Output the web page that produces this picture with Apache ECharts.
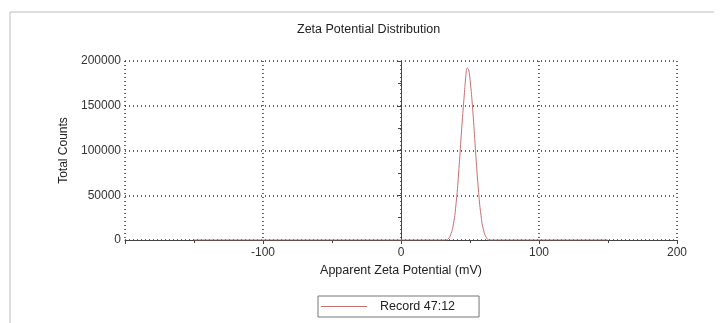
<!DOCTYPE html>
<html>
<head>
<meta charset="utf-8">
<script src="https://cdn.jsdelivr.net/npm/echarts@6/dist/echarts.min.js"></script>
<style>
  html, body { margin: 0; padding: 0; background: #fff; }
  #main { width: 720px; height: 323px; }
</style>
</head>
<body>
<div id="main"></div>
<script>
// apparent zeta potential (mV) and total counts
var potential = [-150, 30, 32, 34, 36, 38, 40, 42, 44, 46, 47, 48, 49, 50, 52, 54, 56, 58, 60, 62, 64, 150];
var counts    = [0, 0, 0, 1000, 6000, 18000, 42000, 80000, 125000, 165000, 183000, 192000, 190000, 180000, 145000, 100000, 58000, 27000, 10000, 2500, 0, 0];
var seriesName = 'Record 47:12';

var points = [];
for (var i = 0; i < potential.length; i++) {
  points.push([potential[i], counts[i]]);
}

var chart = echarts.init(document.getElementById('main'));
var font = 'Liberation Sans, Arial, sans-serif';
var option = {
  animation: false,
  backgroundColor: '#fff',
  textStyle: { fontFamily: font },
  title: {
    text: 'Zeta Potential Distribution',
    left: 292,
    top: 18,
    textStyle: { fontSize: 12.5, fontWeight: 'normal', color: '#222', fontFamily: font }
  },
  graphic: [{
    type: 'polyline',
    shape: { points: [[10, 323], [10, 12], [714, 12]] },
    style: { stroke: '#bbb', lineWidth: 1, fill: null }
  }],
  grid: { left: 125, right: 43, top: 61, bottom: 83 },
  legend: {
    data: [seriesName],
    left: 318,
    top: 296,
    padding: [4, 24, 4, 3],
    borderColor: '#777',
    borderWidth: 1,
    icon: 'rect',
    itemWidth: 46,
    itemHeight: 1,
    itemGap: 0,
    textStyle: { fontSize: 12.5, color: '#222', fontFamily: font, padding: [0, 0, 0, 8] }
  },
  xAxis: {
    type: 'value',
    min: -200,
    max: 200,
    interval: 100,
    name: 'Apparent Zeta Potential (mV)',
    nameLocation: 'middle',
    nameGap: 23,
    nameTextStyle: { fontSize: 12.5, color: '#222' },
    axisLine: { onZero: false, lineStyle: { color: '#444', width: 1 } },
    axisTick: { show: true, length: 4, lineStyle: { color: '#444' } },
    minorTick: { show: true, splitNumber: 2, length: 3, lineStyle: { color: '#444' } },
    axisLabel: {
      fontSize: 12, color: '#333', margin: 7,
      formatter: function (v) { return v === -200 ? '' : String(v); }
    },
    splitLine: { show: true, lineStyle: { color: '#333', type: [1, 3], width: 1.5 } }
  },
  yAxis: {
    type: 'value',
    min: 0,
    max: 200000,
    interval: 50000,
    name: 'Total Counts',
    nameLocation: 'middle',
    nameGap: 54,
    nameTextStyle: { fontSize: 12, color: '#222' },
    axisLine: { show: true, lineStyle: { color: '#444', width: 1 } },
    axisTick: { show: true, length: 4, lineStyle: { color: '#444' } },
    minorTick: { show: true, splitNumber: 2, length: 3, lineStyle: { color: '#444' } },
    axisLabel: {
      fontSize: 12, color: '#333', margin: 4,
      formatter: function (v) { return String(v); }
    },
    splitLine: { show: true, lineStyle: { color: '#333', type: [1, 3], width: 1.5 } }
  },
  series: [{
    name: seriesName,
    type: 'line',
    smooth: true,
    showSymbol: false,
    data: points,
    lineStyle: { color: '#c97070', width: 1 },
    itemStyle: { color: '#c97070' }
  }]
};
chart.setOption(option);
</script>
</body>
</html>
